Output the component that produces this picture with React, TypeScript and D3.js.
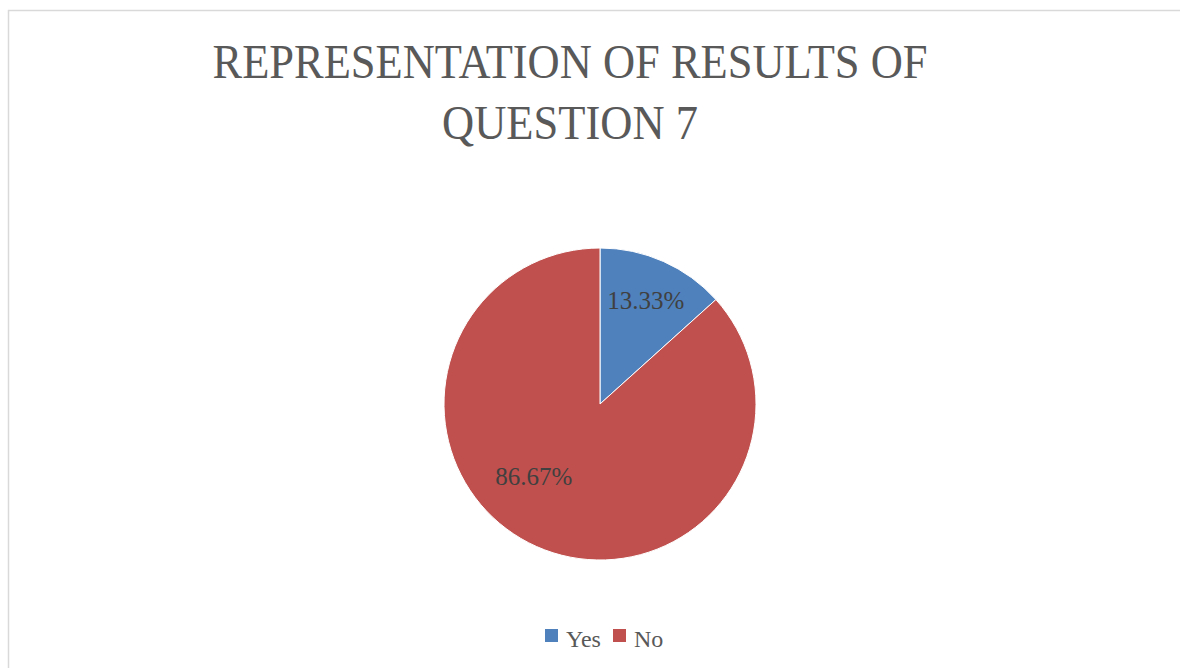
import React from "react";
import * as d3 from "d3";

const categories = ["Yes", "No"];
const values = [13.33, 86.67];
const labels = ["13.33%", "86.67%"];
const colors = ["#4F81BD", "#C0504D"];
const titleLines = ["REPRESENTATION OF RESULTS OF", "QUESTION 7"];

const W = 1180;
const H = 668;
const cx = 600;
const cy = 404;
const R = 156;
const FONT = "'Liberation Serif', 'DejaVu Serif', serif";

export default function App() {
  const pie = d3.pie<number>().sort(null).value((d) => d);
  const arcs = pie(values);
  const arc = d3.arc<d3.PieArcDatum<number>>().innerRadius(0).outerRadius(R);
  // label placement (radius fraction, angle nudge in radians) per slice
  const labelPlace = [
    { rf: 0.72, da: 0 },
    { rf: 0.63, da: 0.32 },
  ];

  return (
    <svg
      width={W}
      height={H}
      style={{ position: "absolute", left: 0, top: 0, background: "#fff" }}
    >
      <rect x={8.5} y={10.5} width={W + 20} height={H + 20} fill="#fff" stroke="#d9d9d9" strokeWidth={1.5} />
      {titleLines.map((t, i) => (
        <text
          key={i}
          x={570}
          y={78 + i * 61}
          textAnchor="middle"
          fontFamily={FONT}
          fontSize={49}
          fill="#595959"
          textLength={i === 0 ? 715 : 256}
          lengthAdjust="spacingAndGlyphs"
        >
          {t}
        </text>
      ))}
      <g transform={`translate(${cx},${cy})`}>
        {arcs.map((a, i) => (
          <path key={i} d={arc(a) || ""} fill={colors[i]} stroke="#fff" strokeWidth={1} />
        ))}
        {arcs.map((a, i) => {
          const mid = (a.startAngle + a.endAngle) / 2 + labelPlace[i].da;
          const r = R * labelPlace[i].rf;
          const x = Math.sin(mid) * r;
          const y = -Math.cos(mid) * r;
          return (
            <text
              key={i}
              x={x}
              y={y + 8}
              textAnchor="middle"
              fontFamily={FONT}
              fontSize={25}
              fill="#404040"
            >
              {labels[i]}
            </text>
          );
        })}
      </g>
      <g>
        {categories.map((c, i) => {
          const x0 = 545 + i * 68;
          return (
            <g key={c}>
              <rect x={x0} y={629} width={13} height={13} fill={colors[i]} />
              <text x={x0 + 21} y={647} fontFamily={FONT} fontSize={24} fill="#595959">
                {c}
              </text>
            </g>
          );
        })}
      </g>
    </svg>
  );
}
